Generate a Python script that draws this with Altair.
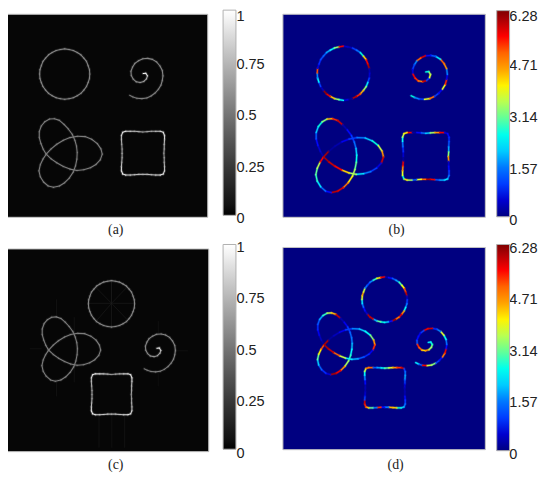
import altair as alt
import pandas as pd

# ---- curve shapes at 3x zoom ----
CIRCLE = [(196,140),(209,142),(222,145),(234,151),(245,158),(254,168),(262,178),(267,191),(271,203),(272,216),
          (271,230),(267,242),(262,254),(254,265),(245,275),(234,282),(222,288),(209,291),(196,293),(183,291),
          (170,288),(158,282),(147,275),(138,265),(130,254),(125,242),(121,230),(120,216),(121,203),(125,191),
          (130,178),(138,168),(147,158),(158,151),(170,145),(183,142)]
SPIRAL = [(393,281),(403,286),(415,290),(430,291),(445,289),(458,283),(470,274),(480,263),(488,250),(492,236),
          (494,222),(492,206),(485,192),(475,180),(462,172),(448,169),(433,170),(420,176),(409,184),(402,195),
          (397,208),(398,221),(404,232),(413,240),(425,242),(436,239),(444,231),(447,222),(442,214),(434,215)]
TREFOIL = [(140,460),(131,445),(124,428),(119,410),(119,392),(125,375),(136,362),(150,354),(165,353),(180,358),
           (194,370),(207,384),(219,400),(227,418),(232,436),(234,455),(233,475),(229,495),(222,514),(210,532),
           (196,546),(180,556),(162,560),(146,556),(132,544),(122,528),(118,510),(122,492),(130,475),(140,460),
           (155,444),(172,430),(192,418),(212,410),(235,406),(258,407),(278,415),(295,428),(306,444),(310,460),
           (304,477),(291,491),(274,501),(254,507),(233,509),(212,505),(192,497),(172,486),(155,474)]
SQUARE = [(381,390),(395,390),(408,390),(421,391),(433,392),(446,391),(459,390),(472,390),(486,390),(495,393),
          (499,403),(499,415),(498,430),(498,444),(497,457),(498,470),(498,484),(499,497),(499,510),(495,520),
          (486,523),(472,523),(459,522),(446,521),(433,521),(421,521),(408,522),(395,523),(381,523),(372,520),
          (368,510),(368,497),(369,484),(370,470),(370,457),(370,444),(369,430),(368,415),(368,403),(372,393)]
SHAPES = {"circle": (CIRCLE, True), "spiral": (SPIRAL, False), "trefoil": (TREFOIL, True), "square": (SQUARE, True)}

# ---- intensity along each curve (panels a, c) ----
GRAY_CIRCLE = [0.55] * len(CIRCLE)
GRAY_TREFOIL = [0.52] * len(TREFOIL)
GRAY_SPIRAL = [0.5,0.5,0.52,0.52,0.52,0.52,0.52,0.52,0.55,0.55,0.55,0.55,0.55,0.55,0.55,0.55,0.55,0.55,0.55,0.55,
               0.55,0.55,0.55,0.6,0.6,0.65,0.7,0.85,1.0,1.0]
GRAY_SQUARE = [0.85,0.8,0.7,0.65,0.6,0.65,0.7,0.8,0.85,0.9,0.85,0.75,0.7,0.65,0.6,0.65,0.7,0.75,0.85,0.9,
               0.9,0.8,0.75,0.7,0.7,0.75,0.8,0.85,0.9,0.95,0.85,0.75,0.7,0.65,0.65,0.65,0.7,0.75,0.85,0.9]
GRAY = {"circle": GRAY_CIRCLE, "spiral": GRAY_SPIRAL, "trefoil": GRAY_TREFOIL, "square": GRAY_SQUARE}

# ---- phase along each curve (panels b, d) ----
PHASE_B = {
 "circle": [0.5,0.4,1.0,1.4,2.6,4.2,5.5,6.0,0.3,0.5,1.0,2.2,3.3,4.4,5.4,5.9,0.2,0.6,2.4,3.3,4.3,5.6,6.1,0.4,1.0,
            2.3,1.6,5.2,0.6,0.9,1.1,1.3,1.8,2.3,3.2,5.6],
 "spiral": [2.6,1.6,1.0,3.8,4.9,1.0,0.7,3.8,5.4,0.7,1.6,4.6,5.0,2.2,1.2,0.8,5.7,5.0,1.6,1.0,0.6,5.6,5.4,4.7,5.8,
            1.0,3.8,3.4,2.6,3.0],
 "trefoil": [0.3,0.5,0.8,1.2,2.0,2.6,3.2,4.4,5.4,5.8,0.3,0.8,1.0,1.4,2.0,2.5,3.0,3.5,4.0,4.8,5.7,5.9,0.8,1.4,2.2,
             2.8,3.0,3.5,5.5,6.0,0.2,0.3,0.7,1.0,1.5,2.0,2.6,3.6,4.6,5.8,0.6,1.0,1.5,2.2,3.4,4.2,5.5,5.8,6.0],
 "square": [5.6,0.2,0.8,1.4,2.0,3.4,4.6,5.6,0.6,0.8,0.9,1.2,1.8,3.2,4.6,0.5,0.8,1.0,1.5,2.2,1.8,1.2,5.6,6.0,5.0,
            3.8,1.2,3.4,4.2,2.6,3.8,4.6,5.6,0.2,0.5,0.9,1.5,2.4,3.6,4.0],
}
PHASE_D = {
 "circle": [0.3,0.8,1.2,1.8,2.9,3.9,5.2,5.9,0.4,1.0,1.5,2.4,4.6,5.6,4.8,6.0,0.8,2.0,2.5,3.0,1.8,5.8,5.9,0.5,0.8,
            1.4,2.2,3.8,4.5,3.6,1.4,1.0,1.6,2.8,4.0,5.6],
 "spiral": [2.2,1.2,5.6,3.6,3.2,1.0,0.8,4.8,5.6,0.8,1.4,2.4,3.8,1.6,0.9,5.8,5.6,1.0,0.7,0.8,1.2,5.4,5.0,4.2,4.6,
            3.4,3.2,2.6,2.2,3.0],
 "trefoil": [0.2,0.4,0.7,0.9,1.2,1.8,2.8,3.6,4.4,5.8,0.3,0.7,1.0,1.3,1.5,1.9,2.3,2.8,3.4,4.6,5.6,6.0,0.6,0.9,1.3,
             2.0,3.0,4.0,5.2,6.0,0.2,0.4,0.7,1.0,1.6,2.0,2.4,3.2,4.6,5.4,0.7,0.9,1.2,1.8,2.2,3.6,5.0,5.8,6.0],
 "square": [5.0,1.2,1.8,2.4,3.0,3.8,4.6,5.4,5.8,1.0,1.4,1.8,1.0,0.5,0.3,0.3,0.8,1.0,1.4,2.0,2.6,4.2,4.4,1.5,0.8,
            5.4,1.5,3.0,4.4,5.4,5.8,1.0,0.5,0.3,0.3,0.8,1.6,2.4,3.6,4.8],
}

# ---- where each curve sits in each panel, as (x0, x1, y0, y1) in page pixels ----
BBOX = {
 "a": {"circle": (40,90.7,46.7,97.7), "spiral": (131,164.7,56.3,97), "trefoil": (39.3,103.3,117.3,186.7), "square": (122.7,166.3,130,174.3)},
 "b": {"circle": (320.7,373.7,44,98.7), "spiral": (415.7,452.3,53.3,97.7), "trefoil": (319.3,387.7,117.3,192), "square": (407,454,131.3,179.3)},
 "c": {"circle": (89.3,136,281,328), "spiral": (145.7,177.3,335,373.3), "trefoil": (42.3,101.7,317.7,382.7), "square": (92.3,133.3,375.3,416.7)},
 "d": {"circle": (366,411.7,277.3,323.3), "spiral": (420.3,451.7,329.3,367), "trefoil": (321,379,313.7,376), "square": (368.7,409.7,369,409.7)},
}

# ---- faint spokes of panel (c), page pixels (x1, y1, x2, y2, level) ----
STREAKS_C = [(112.7,304,112.7,282,0.16),(112.7,304,135,304,0.13),(112.7,304,90,304,0.13),(112.7,304,97,288,0.12),
             (112.7,304,128,288,0.12),(112.7,304,98,321,0.12),(112.7,304,128,320,0.12),(112.7,304,112.7,327,0.14),
             (100,418,100,450,0.1),(113,418,113,450,0.09),(126,418,126,450,0.1),
             (57,316,57,300,0.1),(75,336,75,318,0.1),(75,366,75,384,0.1),(57,384,57,398,0.1),(42,350,30,350,0.1),
             (160,335,160,322,0.08),(178,352,190,352,0.08),(160,374,160,388,0.07)]

# ---- panels, colour bars, captions ----
PANELS = [("a",6,210,11.7,217,"#060606"),("b",286,490.7,11.7,217,"#000080"),
          ("c",6,211,249,454,"#060606"),("d",286,490.7,247.5,452,"#000080")]
BAR_POS = {"a": (221,10.5,207.5), "b": (497.7,11,208.5), "c": (221,247.5,207), "d": (497.7,247.5,208.5)}
CAPTIONS = [("(a)",117,230),("(b)",401,230),("(c)",117,467.5),("(d)",400,467.5)]
TICK_TEXT = [("1",239,14),("0.75",239,63),("0.5",239,115),("0.25",239,167),("0",239,219),
             ("6.28",515,14),("4.71",515,64),("3.14",515,116.7),("1.57",515,169),("0",515,221),
             ("1",239,248.3),("0.75",239,300),("0.5",239,352),("0.25",239,404),("0",239,456),
             ("6.28",515,249),("4.71",515,301),("3.14",515,353.3),("1.57",515,405),("0",515,457.3)]
GRAY_TICKS = [0,0.25,0.5,0.75,1]
JET_TICKS = [0,1.57,3.14,4.71,6.28]
JET = ["#00007f","#0000ff","#007fff","#00ffff","#7fff7f","#ffff00","#ff7f00","#ff0000","#7f0000"]


def segments(panel):
    rows = []
    for name, (pts, closed) in SHAPES.items():
        x0, x1, y0, y1 = BBOX[panel][name]
        xs = [p[0] for p in pts]
        ys = [p[1] for p in pts]
        sx = (x1 - x0) / (max(xs) - min(xs))
        sy = (y1 - y0) / (max(ys) - min(ys))
        mapped = [(x0 + (p[0] - min(xs)) * sx, y0 + (p[1] - min(ys)) * sy) for p in pts]
        if panel in "ac":
            vals = GRAY[name]
        else:
            vals = (PHASE_B if panel == "b" else PHASE_D)[name]
        n = len(mapped) if closed else len(mapped) - 1
        for i in range(n):
            a = mapped[i]
            b = mapped[(i + 1) % len(mapped)]
            rows.append({"x": a[0], "y": a[1], "x2": b[0], "y2": b[1], "v": vals[i]})
    return pd.DataFrame(rows)


X = alt.X("x:Q", axis=None, scale=alt.Scale(domain=[8, 548], nice=False, zero=False))
Y = alt.Y("y:Q", axis=None, scale=alt.Scale(domain=[480, 8], nice=False, zero=False))

bg = alt.Chart(pd.DataFrame(PANELS, columns=["p", "x", "x2", "y", "y2", "fill"])).mark_rect(
    stroke="#c4c4c4", strokeWidth=1
).encode(x=X, x2="x2:Q", y=Y, y2="y2:Q", fill=alt.Fill("fill:N", scale=None, legend=None))

layers = [bg]


def scale_for(panel):
    if panel in "ac":
        return alt.Scale(domain=[0, 1], range=["#000000", "#ffffff"])
    return alt.Scale(domain=[0, 6.28], range=JET)


streaks = pd.DataFrame(STREAKS_C, columns=["x", "y", "x2", "y2", "v"])
layers.append(
    alt.Chart(streaks).mark_rule(strokeWidth=1, opacity=0.55).encode(
        x=X, x2="x2:Q", y=Y, y2="y2:Q",
        color=alt.Color("v:Q", scale=scale_for("c"), legend=None))
)

for panel in "abcd":
    df = segments(panel)
    gray = panel in "ac"
    layers.append(
        alt.Chart(df).mark_rule(strokeWidth=3.2 if gray else 2.6, opacity=0.12 if gray else 0.3, strokeCap="round").encode(
            x=X, x2="x2:Q", y=Y, y2="y2:Q",
            color=alt.Color("v:Q", scale=scale_for(panel), legend=None))
    )
    bx, by, blen = BAR_POS[panel]
    layers.append(
        alt.Chart(df).mark_rule(strokeWidth=1.1 if gray else 1.3, strokeCap="round").encode(
            x=X, x2="x2:Q", y=Y, y2="y2:Q",
            color=alt.Color("v:Q", scale=scale_for(panel), title=None, legend=alt.Legend(
                orient="none", legendX=bx - 8 + 4.5, legendY=by - 8 - 3, padding=0,
                gradientLength=blen, gradientThickness=13,
                gradientStrokeColor="#b0b0b0", gradientStrokeWidth=1,
                values=GRAY_TICKS if gray else JET_TICKS, labelExpr="''",
                labelOverlap=False, tickCount=5)))
    )

ticks = alt.Chart(pd.DataFrame(TICK_TEXT, columns=["t", "x", "y"])).mark_text(
    font="Liberation Sans", fontSize=14.7, color="#222222", align="left", baseline="middle"
).encode(x=X, y=Y, text="t:N")
layers.append(ticks)

caps = alt.Chart(pd.DataFrame(CAPTIONS, columns=["t", "x", "y"])).mark_text(
    font="Liberation Serif", fontSize=14, color="#222222", baseline="middle"
).encode(x=X, y=Y, text="t:N")
layers.append(caps)

chart = alt.layer(*layers).resolve_scale(color="independent").properties(
    width=540, height=472, padding=0,
    autosize=alt.AutoSizeParams(type="none")
).configure_view(stroke=None)

chart.save("out.html", embed_options={"renderer": "svg", "actions": False})
